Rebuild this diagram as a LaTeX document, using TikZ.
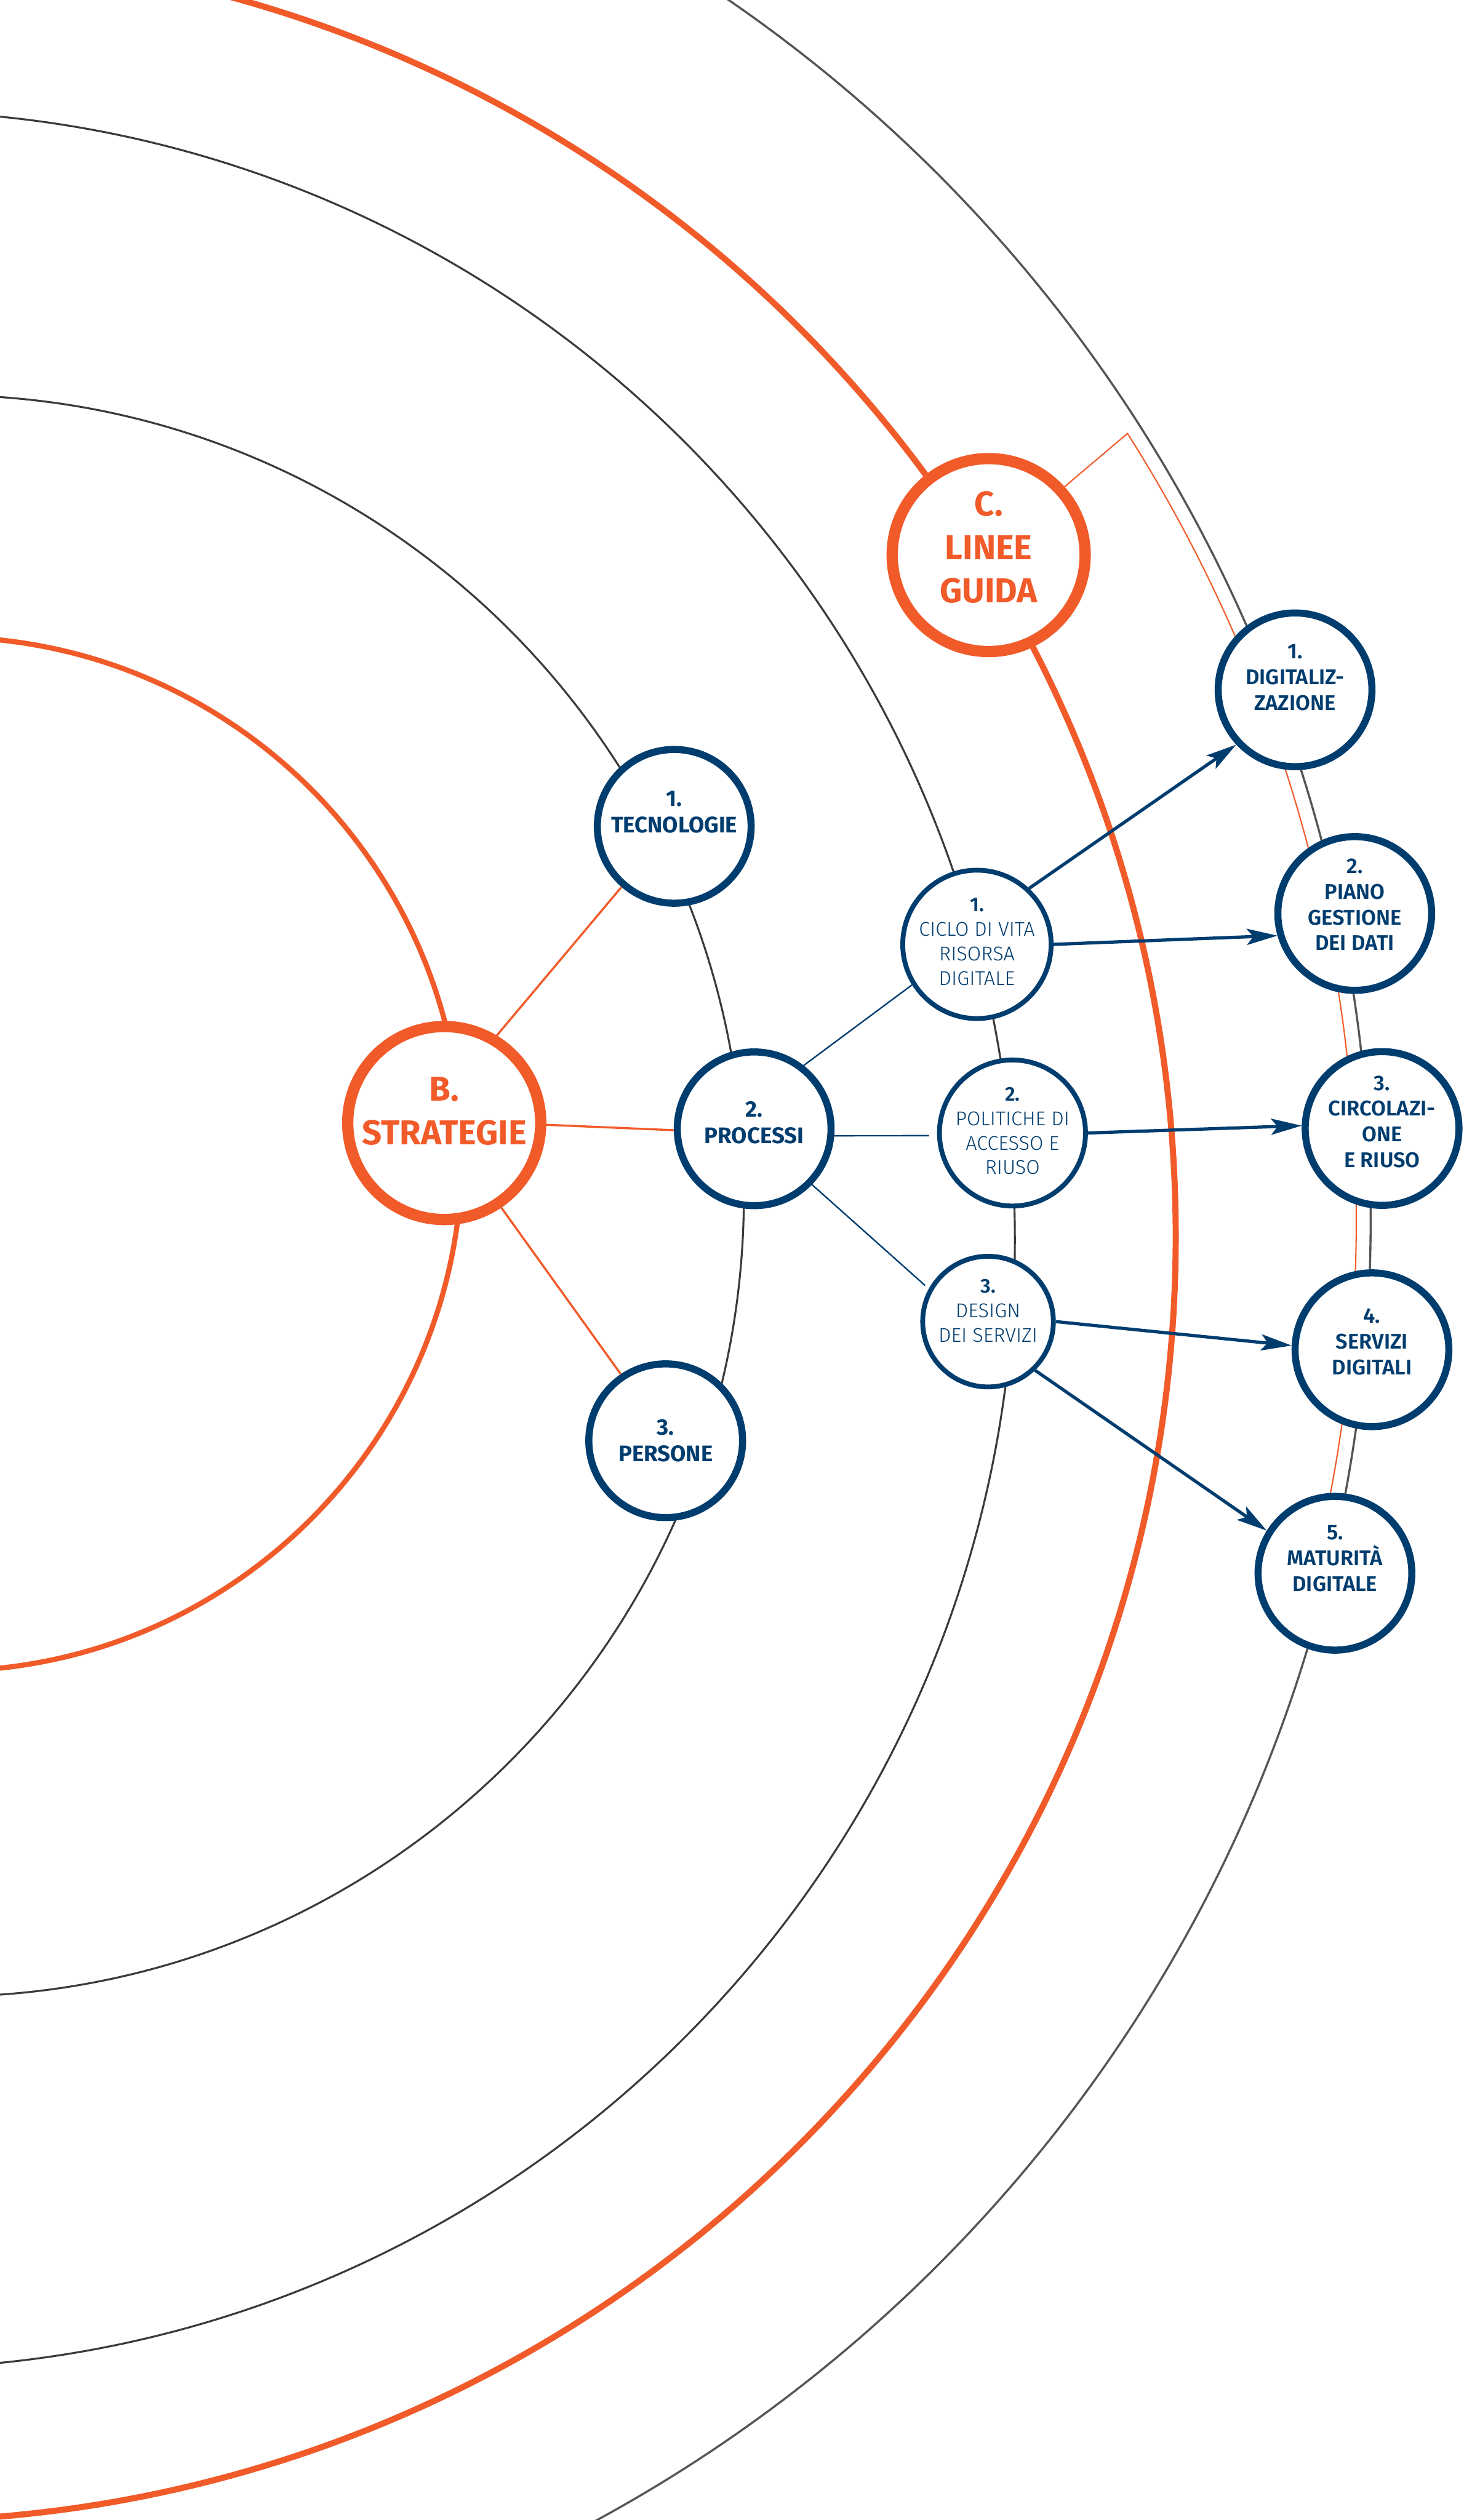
\documentclass[tikz,border=0pt]{standalone}
\usepackage{fontspec}
\setmainfont{Fira Sans}
\newfontfamily\leggero{Fira Sans Light}
\newfontfamily\medio{Fira Sans SemiBold}
\usepackage{tikz}
\usetikzlibrary{arrows.meta,calc}

\definecolor{arancio}{RGB}{241,90,41}
\definecolor{blu}{RGB}{0,61,111}
\definecolor{grigio}{RGB}{58,58,58}
\definecolor{grigiochiaro}{RGB}{85,85,85}

\pgfdeclarelayer{background}
\pgfsetlayers{background,main}

\begin{document}
\begin{tikzpicture}[x=1pt, y=-1pt,
    guida/.style={circle, draw=arancio, line width=7pt, fill=white, minimum size=120pt, inner sep=0pt, align=center, text=arancio, font=\bfseries\fontsize{21.5}{27}\selectfont},
    area/.style={circle, draw=blu, line width=4.4pt, fill=white, minimum size=95.6pt, inner sep=0pt, align=center, text=blu, font=\bfseries\fontsize{14}{16.4}\selectfont},
    azione/.style={area, font=\medio\fontsize{13.2}{16}\selectfont},
    tema/.style={circle, draw=blu, line width=3pt, fill=white, minimum size=79pt, inner sep=0pt, align=center, text=blu, font=\leggero\fontsize{12.4}{15.3}\selectfont},
    su/.style={text depth=#1},
    ramo/.style={arancio, line width=1.3pt},
    filo/.style={blu, line width=0.9pt},
    freccia/.style={blu, line width=2pt, -{Stealth[length=19pt, width=10pt, inset=4pt]}},
]
\useasboundingbox (0,0) rectangle (910,1567.2);

% B. strategie and its three areas
\node[guida, su=15pt] (strategie) at (276.2,698.4) {B.\\STRATEGIE};
\node[area, su=18pt] (tecnologie) at (419.2,513.9) {1.\\TECNOLOGIE};
\node[area, su=8pt] (processi) at (468.9,702) {2.\\PROCESSI};
\node[area] (persone) at (413.9,896) {3.\\PERSONE};

% processi
\node[tema, su=3.6pt] (ciclo) at (607.4,587.3) {{\medio 1.}\\CICLO DI VITA\\RISORSA\\DIGITALE};
\node[tema, su=2.8pt] (politiche) at (629.5,704.6) {{\medio 2.}\\POLITICHE DI\\ACCESSO E\\RIUSO};
\node[tema, su=13.8pt] (design) at (614.3,821.9) {{\medio 3.}\\DESIGN\\DEI SERVIZI};

% C. linee guida
\node[guida, su=10pt] (linee) at (614.7,345.2) {C.\\LINEE\\GUIDA};
\node[azione, su=15.4pt] (digitaliz) at (805.2,429) {1.\\DIGITALIZ-\\ZAZIONE};
\node[azione, su=11pt] (piano) at (842.3,568.1) {2.\\PIANO\\GESTIONE\\DEI DATI};
\node[azione, su=8.6pt] (circolazione) at (859.3,701.8) {3.\\CIRCOLAZI-\\ONE\\E RIUSO};
\node[azione, su=10.2pt] (servizi) at (853,839.4) {4.\\SERVIZI\\DIGITALI};
\node[azione, su=18.8pt] (maturita) at (830,978.4) {5.\\MATURITÀ\\DIGITALE};

% rings behind everything
\begin{pgfonlayer}{background}
  \begin{scope}
    \clip (0,0) rectangle (910,1567.2);
    \draw[arancio, line width=3.2pt] (-34.3,717.7) circle[radius=321.5];
    \draw[grigio, line width=1.2pt] (-35.5,743.7) circle[radius=498];
    \draw[grigio, line width=1.2pt] (-71,771) circle[radius=702];
    \draw[arancio, line width=3.8pt] (-68,768.9) circle[radius=799];
    \draw[grigiochiaro, line width=1.3pt] (-67.8,758.5) circle[radius=920];
  \end{scope}
  \coordinate (knick) at (701,269.6);
  \draw[arancio, line width=0.8pt] (linee.42.4) -- (knick) arc[start angle=-32.45, end angle=14, radius=911];
\end{pgfonlayer}

% links
\draw[ramo] (strategie.59.1) -- (tecnologie.229.6);
\draw[ramo] (strategie.-1.9) -- (processi.181.5);
\draw[ramo] (strategie.-56.8) -- (persone.124.2);

\draw[filo] (processi.52.8) -- (ciclo.212.7);
\draw[filo, shorten >=5pt] (processi.-5.2) -- (politiche.182.7);
\draw[filo, shorten >=3pt] (processi.-44.2) -- (design.151.7);

\draw[freccia] (ciclo.47.2) -- (digitaliz.223.5);
\draw[freccia] (ciclo.0) -- (piano.196.8);
\draw[freccia] (politiche.0) -- (circolazione.178);
\draw[freccia] (design.0) -- (servizi.177.3);
\draw[freccia] (design.-46.4) -- (maturita.148.9);

\end{tikzpicture}
\end{document}
